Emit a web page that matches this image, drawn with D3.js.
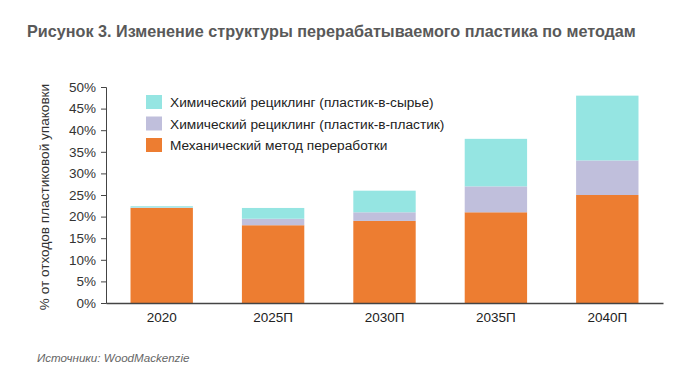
<!DOCTYPE html>
<html>
<head>
<meta charset="utf-8">
<script src="https://cdn.jsdelivr.net/npm/d3@7"></script>
<style>
  body { margin: 0; background: #fff; }
  text { font-family: "Liberation Sans", Arial, sans-serif; }
</style>
</head>
<body>
<script>
// data (% of plastic packaging waste)
var years = ['2020', '2025П', '2030П', '2035П', '2040П']
var mechanical = [22, 18, 19, 21, 25]
var plasticToPlastic = [0.1, 1.5, 2, 6, 8]
var plasticToFeed = [0.3, 2.5, 5, 11, 15]
var yTicks = [0, 5, 10, 15, 20, 25, 30, 35, 40, 45, 50]

var seriesKeys = ['mech', 'pp', 'pf']
var seriesNames = {
    mech: 'Механический метод переработки',
    pp: 'Химический рециклинг (пластик-в-пластик)',
    pf: 'Химический рециклинг (пластик-в-сырье)'
}
var colors = { mech: '#ED7D31', pp: '#C0BFDC', pf: '#95E5E2' }

var rows = years.map(function(y, i) {
    return { year: y, mech: mechanical[i], pp: plasticToPlastic[i], pf: plasticToFeed[i] }
})

var W = 700, H = 379
var margin = { top: 87, right: 37, bottom: 76, left: 106 }
var width = W - margin.left - margin.right
var height = H - margin.top - margin.bottom

var root = d3.select('body').append('svg')
    .attr('width', W)
    .attr('height', H)

root.append('text')
    .attr('x', 27)
    .attr('y', 37)
    .attr('font-weight', 'bold')
    .attr('font-size', '16.2px')
    .attr('fill', '#595959')
    .text('Рисунок 3. Изменение структуры перерабатываемого пластика по методам')

var svg = root.append('g')
    .attr('transform', 'translate(' + margin.left + ',' + margin.top + ')')

var x = d3.scaleBand()
    .domain(years)
    .range([0, width])
    .paddingInner(0.44)
    .paddingOuter(0.22)

var y = d3.scaleLinear()
    .domain([0, 50])
    .range([height, 0])

var stacked = d3.stack().keys(seriesKeys)(rows)

svg.selectAll('.layer')
    .data(stacked)
    .enter().append('g')
    .attr('class', 'layer')
    .attr('fill', function(d) { return colors[d.key] })
    .selectAll('rect')
    .data(function(d) { return d })
    .enter().append('rect')
    .attr('x', function(d) { return x(d.data.year) })
    .attr('width', x.bandwidth())
    .attr('y', function(d) { return y(d[1]) })
    .attr('height', function(d) { return y(d[0]) - y(d[1]) })

// y axis
var yAxis = svg.append('g')
    .call(d3.axisLeft(y).tickValues(yTicks).tickSize(5).tickFormat(function(d) { return d + '%' }))
yAxis.select('.domain').attr('stroke', '#444')
yAxis.selectAll('.tick line').attr('stroke', '#444')
yAxis.selectAll('.tick text')
    .attr('font-size', '13.5px')
    .attr('fill', '#333')
    .attr('x', -10)
    .style('font-family', '"Liberation Sans", Arial, sans-serif')

// x axis
var xAxis = svg.append('g')
    .attr('transform', 'translate(0,' + height + ')')
    .call(d3.axisBottom(x).tickSize(0).tickSizeOuter(0))
xAxis.select('.domain').attr('stroke', '#444').attr('stroke-width', 1.5)
xAxis.selectAll('.tick text')
    .attr('font-size', '13.5px')
    .attr('fill', '#222')
    .attr('dy', '1.15em')
    .style('font-family', '"Liberation Sans", Arial, sans-serif')

// y label
root.append('text')
    .attr('transform', 'translate(49,' + (margin.top + height / 2 + 2) + ') rotate(-90)')
    .attr('text-anchor', 'middle')
    .attr('font-size', '13.6px')
    .attr('fill', '#333')
    .text('% от отходов пластиковой упаковки')

// legend
var legend = root.append('g')
    .attr('transform', 'translate(146,95)')
var legendOrder = ['pf', 'pp', 'mech']
legendOrder.forEach(function(k, i) {
    var g = legend.append('g').attr('transform', 'translate(0,' + (i * 21.5) + ')')
    g.append('rect')
        .attr('width', 16)
        .attr('height', 14)
        .attr('fill', colors[k])
    g.append('text')
        .attr('x', 24)
        .attr('y', 12)
        .attr('font-size', '13.7px')
        .attr('fill', '#222')
        .text(seriesNames[k])
})

root.append('text')
    .attr('x', 37)
    .attr('y', 362)
    .attr('font-size', '11.6px')
    .attr('font-style', 'italic')
    .attr('fill', '#666')
    .text('Источники: WoodMackenzie')
</script>
</body>
</html>
